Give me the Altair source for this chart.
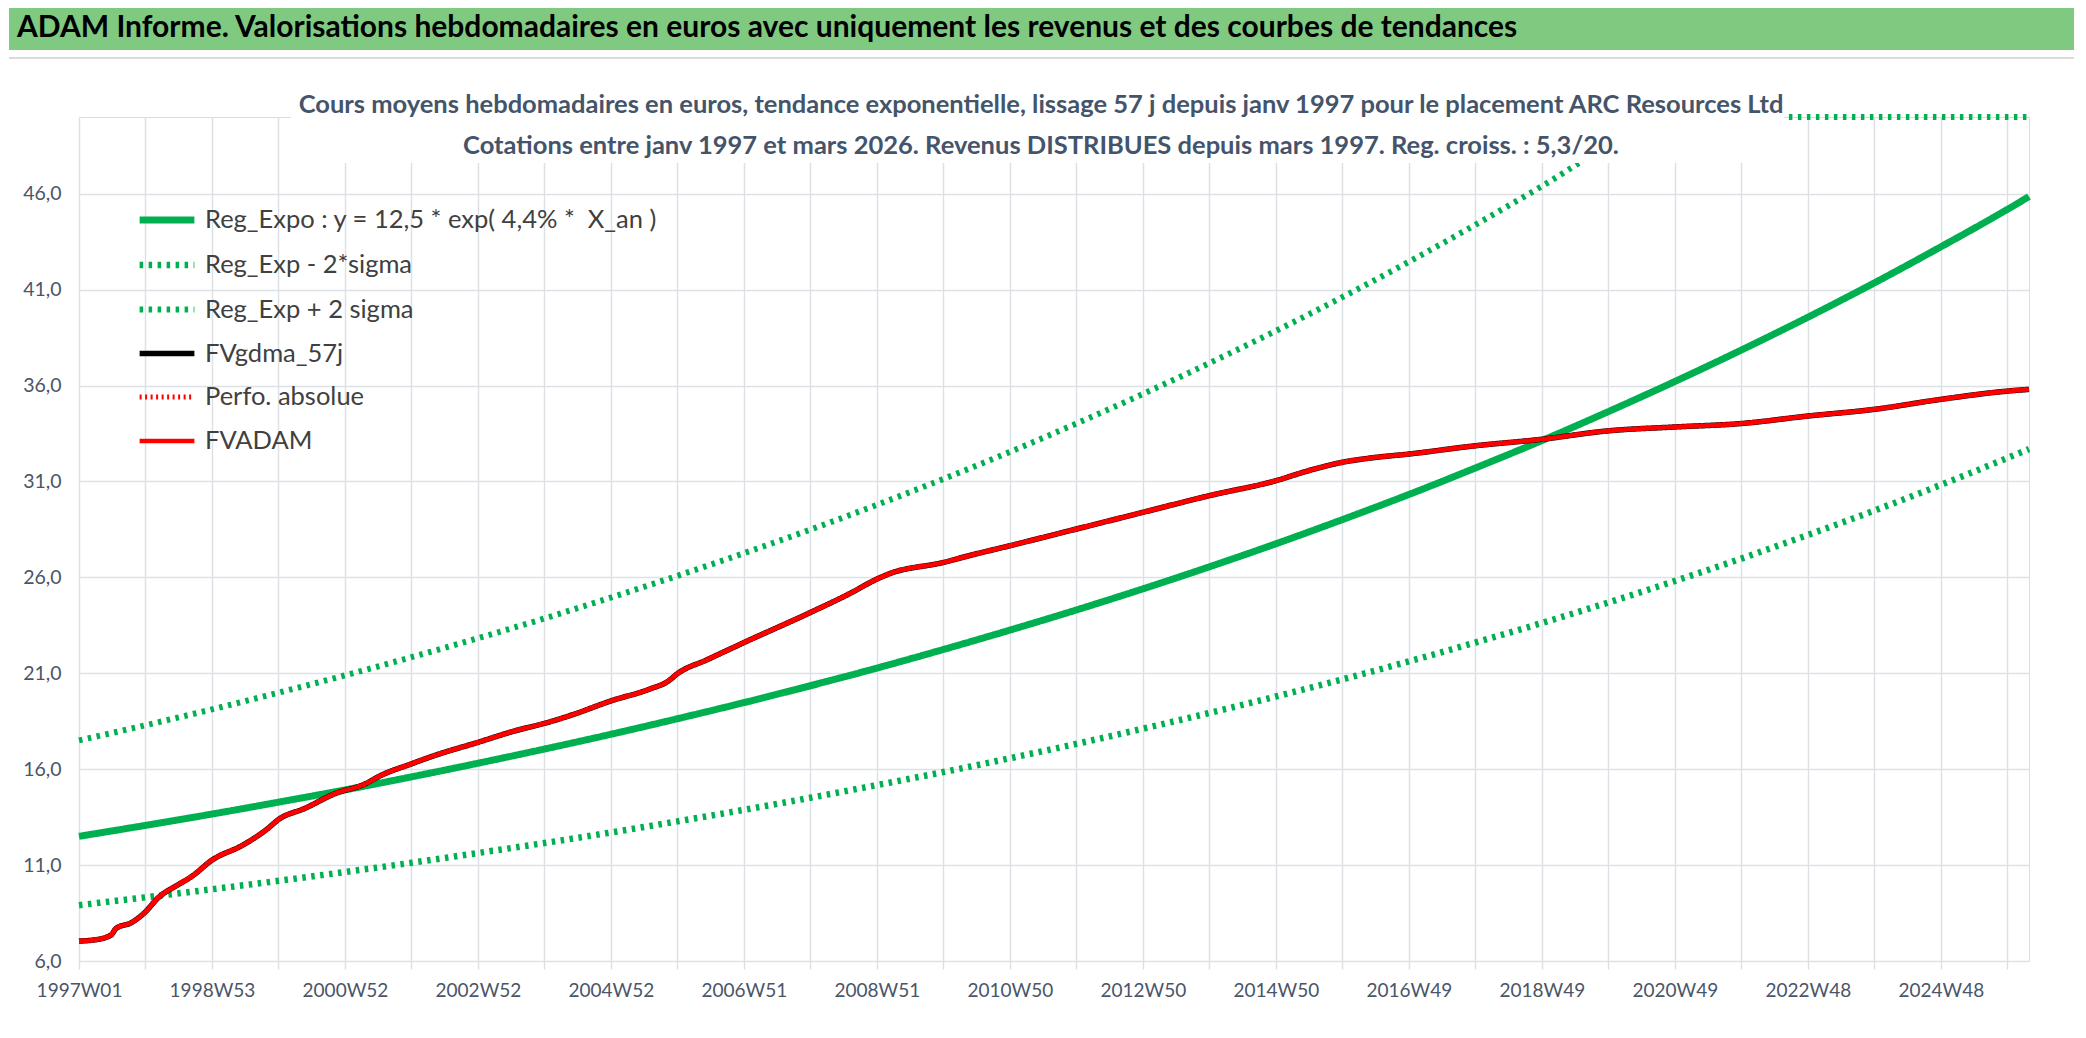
import altair as alt
import pandas as pd

FONT = "Lato, Carlito, Roboto, sans-serif"

TITLE = "ADAM Informe. Valorisations hebdomadaires en euros avec uniquement les revenus et des courbes de tendances"
SUB1 = "Cours moyens hebdomadaires en euros, tendance exponentielle, lissage 57 j depuis janv 1997 pour le placement ARC Resources Ltd"
SUB2 = "Cotations entre janv 1997 et mars 2026. Revenus DISTRIBUES depuis mars 1997. Reg. croiss. : 5,3/20."

X_LABELS = ["1997W01", "1998W53", "2000W52", "2002W52", "2004W52", "2006W51", "2008W51",
            "2010W50", "2012W50", "2014W50", "2016W49", "2018W49", "2020W49", "2022W48", "2024W48"]
Y_TICKS = [6, 11, 16, 21, 26, 31, 36, 41, 46]

# regression curves, read every 52 weeks (week index from 1997W01)
REG_WEEKS = [0, 52, 104, 156, 208, 260, 312, 364, 416, 468, 520, 572, 624, 676, 728, 780,
             832, 884, 936, 988, 1040, 1092, 1144, 1196, 1248, 1300, 1352, 1404, 1456, 1508, 1525]
REG_EXPO = [12.50, 13.07, 13.66, 14.28, 14.92, 15.60, 16.31, 17.05, 17.82, 18.63, 19.47, 20.35,
            21.27, 22.24, 23.25, 24.30, 25.40, 26.55, 27.75, 29.01, 30.32, 31.70, 33.13, 34.64,
            36.21, 37.85, 39.56, 41.35, 43.23, 45.18, 45.85]
REG_LOW = [8.91, 9.32, 9.74, 10.18, 10.64, 11.12, 11.63, 12.15, 12.70, 13.28, 13.88, 14.51,
           15.17, 15.85, 16.57, 17.32, 18.11, 18.93, 19.79, 20.68, 21.62, 22.60, 23.62, 24.69,
           25.81, 26.98, 28.21, 29.48, 30.82, 32.22, 32.69]
REG_HIGH = [17.50, 18.29, 19.12, 19.99, 20.89, 21.84, 22.83, 23.86, 24.95, 26.08, 27.26, 28.49,
            29.78, 31.13, 32.54, 34.02, 35.56, 37.17, 38.85, 40.61, 42.45, 44.38, 46.39, 48.49,
            50.69, 52.98, 55.38, 57.89, 60.52, 63.26, 64.19]

# FVADAM valuation (week index, value)
FV_WEEKS = [0, 12, 25, 29, 41, 51, 62, 78, 88, 104, 128, 146, 157, 176, 200, 224, 236, 260,
            278, 312, 341, 364, 386, 416, 446, 461, 468, 491, 520, 572, 602, 624, 633, 676,
            696, 728, 780, 832, 884, 936, 962, 988, 1011, 1040, 1092, 1144, 1196, 1248, 1300,
            1352, 1404, 1456, 1508, 1525]
FVADAM = [7.04, 7.10, 7.35, 7.70, 8.00, 8.50, 9.30, 10.00, 10.40, 11.26, 12.04, 12.82, 13.42,
          13.94, 14.72, 15.24, 15.67, 16.28, 16.71, 17.40, 18.00, 18.39, 18.84, 19.56, 20.17,
          20.60, 20.98, 21.70, 22.60, 24.17, 25.13, 25.91, 26.17, 26.78, 27.13, 27.65, 28.52,
          29.39, 30.26, 31.04, 31.57, 32.00, 32.23, 32.43, 32.86, 33.20, 33.64, 33.84, 34.02,
          34.41, 34.76, 35.28, 35.71, 35.80]
FVGDMA = FVADAM   # hidden under the FVADAM line
PERFO = FVADAM    # hidden under the FVADAM line

SERIES = ["Reg_Expo : y = 12,5 * exp( 4,4% * \u00a0X_an )", "Reg_Exp - 2*sigma", "Reg_Exp + 2 sigma",
          "FVgdma_57j", "Perfo. absolue", "FVADAM"]
COLORS = ["#00B050", "#00B050", "#00B050", "#000000", "#FF0000", "#FF0000"]
DASHES = [[1, 0], [3.5, 5.5], [3.5, 5.5], [1, 0], [2, 3.5], [1, 0]]
WIDTHS = [7, 4.5, 4.5, 4, 2.5, 8.5]

rows = []
for name, xs, ys in [(SERIES[0], REG_WEEKS, REG_EXPO), (SERIES[1], REG_WEEKS, REG_LOW),
                     (SERIES[2], REG_WEEKS, REG_HIGH), (SERIES[3], FV_WEEKS, FVGDMA),
                     (SERIES[4], FV_WEEKS, PERFO), (SERIES[5], FV_WEEKS, FVADAM)]:
    for w, v in zip(xs, ys):
        rows.append({"week": w, "value": v, "series": name})
df = pd.DataFrame(rows)

GRID = "#DDE1E6"
LABEL = "#4A5568"
js_arr = "[" + ",".join(f"'{l}'" for l in X_LABELS) + "]"
x_label_expr = f"datum.value % 104 == 0 ? {js_arr}[datum.value / 104] : ''"

lines = alt.Chart(df).mark_line(strokeCap="butt", strokeJoin="round", interpolate="monotone").encode(
    x=alt.X("week:Q",
            scale=alt.Scale(domain=[0, 1525], nice=False, zero=False),
            axis=alt.Axis(values=list(range(0, 1525, 52)), labelExpr=x_label_expr, title=None,
                          grid=True, gridColor=GRID, gridWidth=1.5, domain=False,
                          ticks=True, tickColor=GRID, tickSize=8, tickWidth=1.5,
                          labelFont=FONT, labelFontSize=19, labelColor=LABEL, labelPadding=12,
                          labelOverlap=False, labelFlush=False)),
    y=alt.Y("value:Q",
            scale=alt.Scale(domain=[6, 50], nice=False, zero=False, clamp=True),
            axis=alt.Axis(values=Y_TICKS, labelExpr="replace(format(datum.value, '.1f'), '.', ',')",
                          title=None, grid=True, gridColor=GRID, gridWidth=1.5, domain=False,
                          ticks=False, labelFont=FONT, labelFontSize=19.5, labelColor=LABEL,
                          labelPadding=18, minExtent=70)),
    color=alt.Color("series:N", scale=alt.Scale(domain=SERIES, range=COLORS),
                    legend=alt.Legend(orient="none", legendX=57, legendY=72, title=None,
                                      labelFont=FONT, labelFontSize=25.5, labelColor="#404040",
                                      symbolType="stroke", symbolSize=3000, labelOffset=7,
                                      rowPadding=-10, labelLimit=800)),
    strokeDash=alt.StrokeDash("series:N", scale=alt.Scale(domain=SERIES, range=DASHES)),
    strokeWidth=alt.StrokeWidth("series:N", scale=alt.Scale(domain=SERIES, range=WIDTHS)),
)

one = pd.DataFrame({"t": [TITLE], "s1": [SUB1], "s2": [SUB2]})

bar = alt.Chart(one).mark_rect(color="#80C980").encode(
    x=alt.value(-70), x2=alt.value(1995), y=alt.value(-109), y2=alt.value(-67))
sep = alt.Chart(one).mark_rule(color="#D9D9D9", strokeWidth=2).encode(
    x=alt.value(-70), x2=alt.value(1995), y=alt.value(-59))
title = alt.Chart(one).mark_text(align="left", baseline="middle", font=FONT, fontSize=30,
                                 fontWeight="bold", color="#000000").encode(
    x=alt.value(-62), y=alt.value(-89), text="t:N")
box = alt.Chart(one).mark_rect(color="#FFFFFF").encode(
    x=alt.value(212), x2=alt.value(1705), y=alt.value(-30), y2=alt.value(46))
sub1 = alt.Chart(one).mark_text(align="center", baseline="middle", font=FONT, fontSize=25.5,
                                fontWeight="bold", color="#44546A").encode(
    x=alt.value(962), y=alt.value(-12), text="s1:N")
sub2 = alt.Chart(one).mark_text(align="center", baseline="middle", font=FONT, fontSize=25.5,
                                fontWeight="bold", color="#44546A").encode(
    x=alt.value(962), y=alt.value(29), text="s2:N")

chart = alt.layer(lines, box, bar, sep, title, sub1, sub2).properties(
    width=1950, height=844, padding=0, background="#FFFFFF"
).configure_view(stroke=None).configure(font=FONT)

chart.save("out.html", embed_options={"renderer": "svg", "actions": False})
